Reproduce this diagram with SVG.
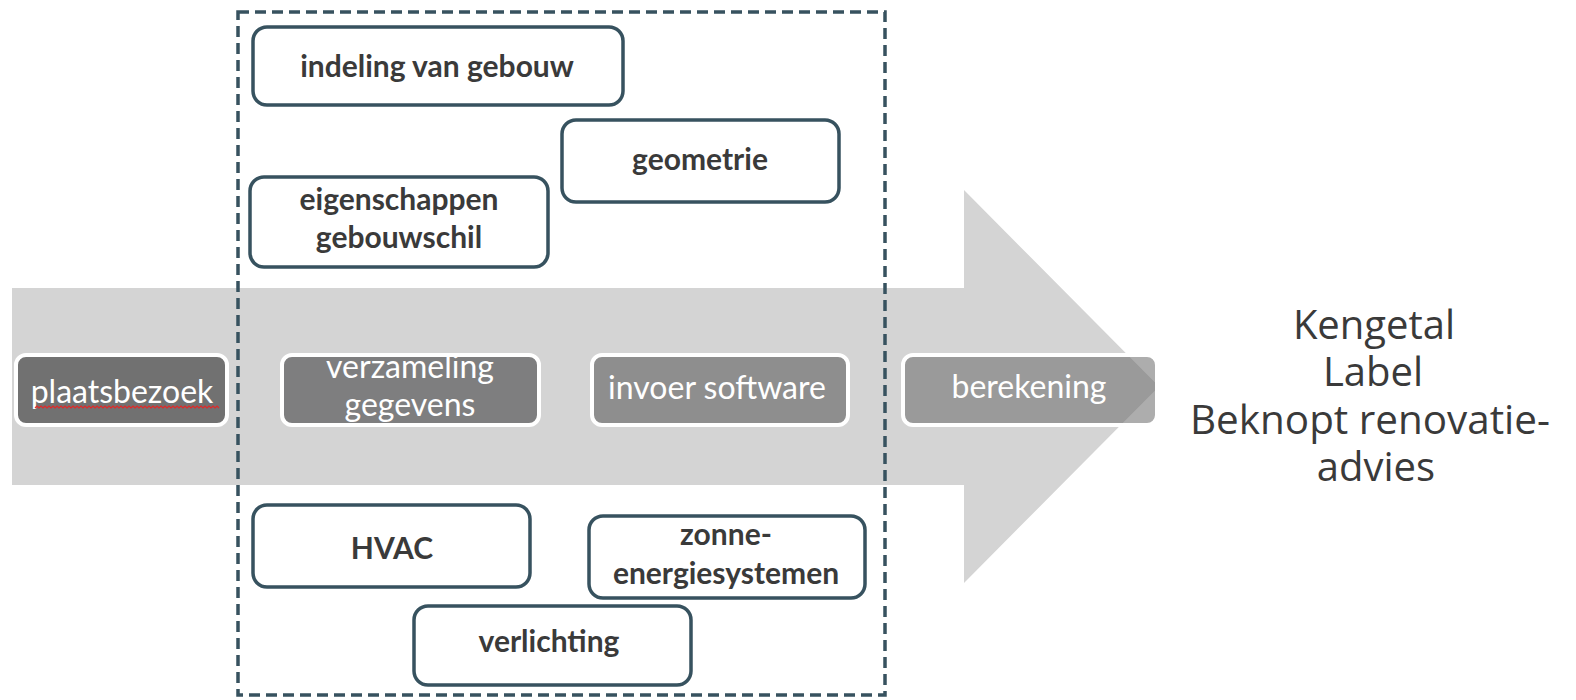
<svg xmlns="http://www.w3.org/2000/svg" width="1576" height="700" viewBox="0 0 1576 700">
  <style>
    .node rect { fill: #ffffff; stroke: #37525f; stroke-width: 3.5; }
    .node text { font-family: Lato, "Open Sans", sans-serif; font-weight: 700; font-size: 30px; fill: #3a3a3a; text-anchor: middle; }
    .step rect { stroke: #ffffff; stroke-width: 4; }
    .step text { font-family: Lato, "Open Sans", sans-serif; font-size: 32px; fill: #ffffff; text-anchor: middle; }
    .result text { font-family: "Open Sans", "Liberation Sans", sans-serif; font-size: 40px; fill: #3a3a3a; text-anchor: middle; }
  </style>

  <!-- big process arrow in the background -->
  <polygon id="flow-arrow" points="12,288 964,288 964,190 1159,386.5 964,583 964,485 12,485" fill="#d4d4d4"/>

  <!-- dashed frame around the data-collection stage -->
  <rect id="collection-frame" x="238" y="12" width="647" height="683" fill="none" stroke="#37525f" stroke-width="3.5" stroke-dasharray="11,6"/>

  <!-- process steps on the arrow -->
  <g id="step-plaatsbezoek" class="step">
    <rect x="16" y="355" width="211" height="70" rx="10" fill="#717171"/>
    <text x="122" y="403">plaatsbezoek</text>
    <path d="M35,408 l2,-2 l2,2 l2,-2 l2,2 l2,-2 l2,2 l2,-2 l2,2 l2,-2 l2,2 l2,-2 l2,2 l2,-2 l2,2 l2,-2 l2,2 l2,-2 l2,2 l2,-2 l2,2 l2,-2 l2,2 l2,-2 l2,2 l2,-2 l2,2 l2,-2 l2,2 l2,-2 l2,2 l2,-2 l2,2 l2,-2 l2,2 l2,-2 l2,2 l2,-2 l2,2 l2,-2 l2,2 l2,-2 l2,2 l2,-2 l2,2 l2,-2 l2,2 l2,-2 l2,2 l2,-2 l2,2 l2,-2 l2,2 l2,-2 l2,2 l2,-2 l2,2 l2,-2 l2,2 l2,-2 l2,2 l2,-2 l2,2 l2,-2 l2,2 l2,-2 l2,2 l2,-2 l2,2 l2,-2 l2,2 l2,-2 l2,2 l2,-2 l2,2 l2,-2 l2,2 l2,-2 l2,2 l2,-2 l2,2 l2,-2 l2,2 l2,-2 l2,2 l2,-2 l2,2 l2,-2 l2,2 l2,-2 l2,2 l2,-2 l2,2" fill="none" stroke="#e02a2a" stroke-width="1.2"/>
  </g>
  <g id="step-verzameling" class="step">
    <rect x="282" y="355" width="257" height="70" rx="10" fill="#7e7e7f"/>
    <text x="410" y="378">verzameling</text>
    <text x="410" y="416">gegevens</text>
  </g>
  <g id="step-invoer" class="step">
    <rect x="592" y="355" width="256" height="70" rx="10" fill="#8e8e8e"/>
    <text x="717" y="399">invoer software</text>
  </g>
  <g id="step-berekening" class="step">
    <rect x="903" y="355" width="254" height="70" rx="10" fill="#6a6a6a" fill-opacity="0.55"/>
    <text x="1029" y="398">berekening</text>
  </g>

  <!-- collected data items -->
  <g id="node-indeling" class="node">
    <rect x="253" y="27" width="370" height="78" rx="14"/>
    <text x="437" y="77">indeling van gebouw</text>
  </g>
  <g id="node-geometrie" class="node">
    <rect x="562" y="120" width="277" height="82" rx="14"/>
    <text x="700" y="170">geometrie</text>
  </g>
  <g id="node-gebouwschil" class="node">
    <rect x="250" y="177" width="298" height="90" rx="14"/>
    <text x="399" y="210">eigenschappen</text>
    <text x="399" y="248">gebouwschil</text>
  </g>
  <g id="node-hvac" class="node">
    <rect x="253" y="505" width="277" height="82" rx="14"/>
    <text x="392" y="559">HVAC</text>
  </g>
  <g id="node-zonne" class="node">
    <rect x="589" y="516" width="276" height="82" rx="14"/>
    <text x="726" y="545">zonne-</text>
    <text x="726" y="584">energiesystemen</text>
  </g>
  <g id="node-verlichting" class="node">
    <rect x="414" y="606" width="277" height="79" rx="14"/>
    <text x="549" y="652">verlichting</text>
  </g>

  <!-- outcome -->
  <g id="result" class="result">
    <text x="1374" y="339">Kengetal</text>
    <text x="1373" y="386">Label</text>
    <text x="1370" y="434" textLength="360" lengthAdjust="spacingAndGlyphs">Beknopt renovatie-</text>
    <text x="1376" y="481">advies</text>
  </g>
</svg>
